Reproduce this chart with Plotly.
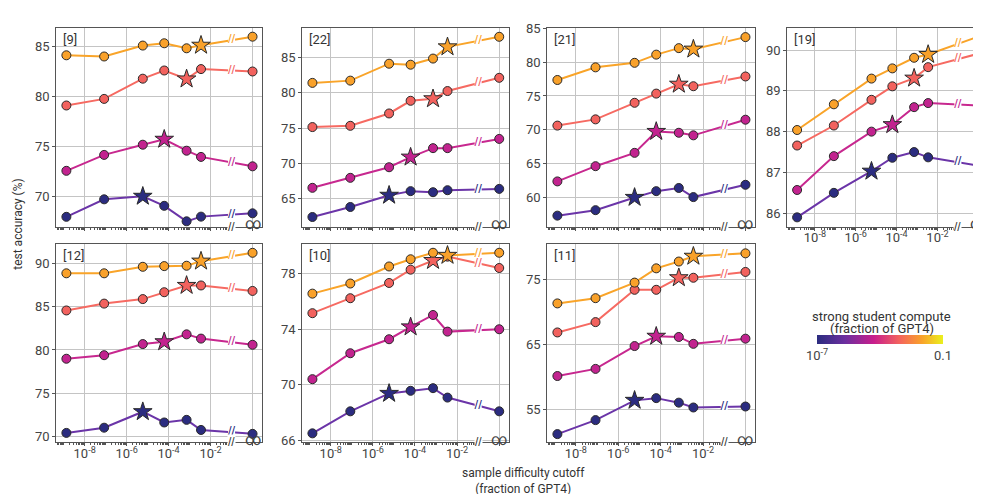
import math
import plotly.graph_objects as go

# ---------------- data ----------------
# sample difficulty cutoff (fraction of GPT4) for the finite points; last point is "∞"
CUTOFFS = [1.35e-9, 8.5e-8, 5.9e-6, 6.2e-5, 7.2e-4, 3.5e-3]
INF_POS = 1.0  # where the "∞" cutoff is placed on the log axis

SERIES_NAMES = ["dark", "magenta", "salmon", "orange"]
STAR_IDX = [2, 3, 4, 5]  # starred point for each series

PANEL_IDS = ["[9]", "[22]", "[21]", "[19]", "[12]", "[10]", "[11]"]

ACC_9 = [
    [67.95, 69.70, 70.00, 69.05, 67.50, 67.97, 68.30],
    [72.55, 74.14, 75.16, 75.70, 74.56, 73.94, 73.00],
    [79.08, 79.74, 81.76, 82.58, 81.73, 82.72, 82.48],
    [84.10, 83.98, 85.07, 85.30, 84.80, 85.10, 85.96],
]
ACC_22 = [
    [62.38, 63.80, 65.46, 66.05, 65.90, 66.18, 66.37],
    [66.52, 67.94, 69.44, 70.87, 72.15, 72.15, 73.46],
    [75.14, 75.32, 77.07, 78.87, 79.15, 80.25, 82.13],
    [81.41, 81.73, 84.13, 83.99, 84.86, 86.52, 87.95],
]
ACC_21 = [
    [57.31, 58.12, 60.00, 60.93, 61.40, 60.05, 61.87],
    [62.37, 64.62, 66.59, 69.75, 69.56, 69.18, 71.49],
    [70.62, 71.54, 73.99, 75.35, 76.73, 76.44, 77.88],
    [77.36, 79.23, 79.90, 81.11, 82.07, 81.92, 83.70],
]
ACC_19 = [
    [85.90, 86.50, 87.03, 87.36, 87.50, 87.37, 87.17],
    [86.57, 87.40, 88.00, 88.17, 88.60, 88.70, 88.64],
    [87.66, 88.15, 88.78, 89.11, 89.31, 89.58, 89.91],
    [88.04, 88.67, 89.30, 89.55, 89.81, 89.89, 90.33],
]
ACC_12 = [
    [70.45, 71.05, 72.89, 71.65, 71.95, 70.79, 70.34],
    [78.99, 79.40, 80.68, 80.94, 81.80, 81.31, 80.60],
    [84.55, 85.34, 85.86, 86.65, 87.43, 87.43, 86.80],
    [88.83, 88.83, 89.58, 89.66, 89.70, 90.23, 91.19],
]
ACC_10 = [
    [66.49, 68.08, 69.37, 69.56, 69.75, 69.07, 68.08],
    [70.40, 72.27, 73.28, 74.17, 75.03, 73.83, 74.00],
    [75.16, 76.24, 77.34, 78.30, 78.96, 79.24, 78.42],
    [76.57, 77.30, 78.53, 79.05, 79.52, 79.33, 79.52],
]
ACC_11 = [
    [51.30, 53.44, 56.46, 56.80, 56.11, 55.37, 55.52],
    [60.18, 61.27, 64.76, 66.25, 66.15, 65.10, 65.89],
    [66.84, 68.42, 73.36, 73.36, 75.20, 75.20, 76.09],
    [71.28, 72.08, 74.46, 76.64, 77.68, 78.48, 78.93],
]
PANEL_DATA = [ACC_9, ACC_22, ACC_21, ACC_19, ACC_12, ACC_10, ACC_11]

Y_RANGES = [
    [66.96, 86.83], [61.0, 89.2], [55.67, 85.05], [85.67, 90.54],
    [69.36, 92.25], [65.84, 80.18], [50.04, 80.42],
]
Y_TICKS = [
    [70, 75, 80, 85], [65, 70, 75, 80, 85], [60, 65, 70, 75, 80, 85], [86, 87, 88, 89, 90],
    [70, 75, 80, 85, 90], [66, 70, 74, 78], [55, 65, 75],
]
X_TICKVALS = [1e-8, 1e-6, 1e-4, 1e-2, 1.0]
X_TICKTEXT_FULL = ["10<sup>-8</sup>", "10<sup>-6</sup>", "10<sup>-4</sup>", "10<sup>-2</sup>", ""]
X_TICKTEXT_NONE = ["", "", "", "", ""]
INF_LABEL = "∞"

# ---------------- styles ----------------
W, H = 981, 494
FONT = "Roboto, Arial, sans-serif"
MARKER_COLORS = ["#2b2c80", "#c2238f", "#f2625e", "#f9a12a"]
LINE_COLORS = ["#6b35a8", "#c7288f", "#f66a62", "#f9a429"]
GRID = "#c4c4c4"
FRAME = "#555555"

# panel boxes in pixels: (left, right, top, bottom)
BOXES = [
    (48.3, 254, 13.3, 217), (294.3, 500.7, 13.3, 217), (539.2, 747, 13.3, 217), (779.3, 979.5, 13.3, 217),
    (48.3, 254, 234.3, 438), (294.3, 500.7, 234.3, 438), (539.2, 747, 234.3, 438),
]
FULL_LABEL_PANELS = {3, 4, 5, 6}

fig = go.Figure()
layout = dict(
    width=W, height=H, margin=dict(l=0, r=0, t=0, b=0),
    paper_bgcolor="white", plot_bgcolor="white", showlegend=False,
    font=dict(family=FONT, size=12, color="#333333"),
)
annotations = []

minor_vals = [m * 10.0 ** e for e in range(-10, -1) for m in range(1, 10)]
minor_vals = [v for v in minor_vals if v < 0.11 and v not in X_TICKVALS]

for p, (data, yr, yt) in enumerate(zip(PANEL_DATA, Y_RANGES, Y_TICKS)):
    n = "" if p == 0 else str(p + 1)
    l, r, t, b = BOXES[p]
    xd = [l / W, r / W]
    yd = [1 - b / H, 1 - t / H]
    layout["xaxis" + n] = dict(
        type="log", range=[-9.35, 0.45], domain=xd, anchor="y" + n,
        tickmode="array", tickvals=X_TICKVALS,
        ticktext=X_TICKTEXT_FULL if p in FULL_LABEL_PANELS else X_TICKTEXT_NONE,
        ticks="outside", ticklen=3, tickcolor=FRAME, ticklabelstandoff=-4,
        showgrid=True, gridcolor=GRID, gridwidth=1,
        showline=True, linecolor=FRAME, linewidth=1, mirror=True,
        minor=dict(tickmode="array", tickvals=minor_vals, ticks="outside", ticklen=2,
                   tickcolor=FRAME, showgrid=False),
        tickfont=dict(size=13, color="#444444"), zeroline=False,
    )
    layout["yaxis" + n] = dict(
        range=yr, domain=yd, anchor="x" + n, tickmode="array", tickvals=yt,
        ticks="outside", ticklen=3, tickcolor=FRAME,
        showgrid=True, gridcolor=GRID, gridwidth=1,
        showline=True, linecolor=FRAME, linewidth=1, mirror=True,
        tickfont=dict(size=13, color="#444444"), zeroline=False,
    )
    xs = CUTOFFS + [INF_POS]
    for s, ys in enumerate(data):
        # line
        fig.add_trace(go.Scatter(
            x=xs, y=ys, mode="lines", line=dict(color=LINE_COLORS[s], width=2),
            xaxis="x" + n, yaxis="y" + n, hoverinfo="skip"))
        # break mark on the line between last finite point and ∞
        lx0, lx1 = math.log10(xs[-2]), math.log10(xs[-1])
        frac = (-1 - lx0) / (lx1 - lx0)
        yb = ys[-2] + frac * (ys[-1] - ys[-2])
        fig.add_trace(go.Scatter(
            x=[10 ** -1], y=[yb], mode="markers+text", text=["//"],
            textposition="middle center",
            textfont=dict(size=13, color=MARKER_COLORS[s], family="Arial Black, Arial"),
            marker=dict(symbol="square", size=7, color="white", line=dict(width=0)),
            xaxis="x" + n, yaxis="y" + n, hoverinfo="skip"))
        # circle markers
        ci = [i for i in range(len(xs)) if i != STAR_IDX[s]]
        fig.add_trace(go.Scatter(
            x=[xs[i] for i in ci], y=[ys[i] for i in ci], mode="markers",
            marker=dict(symbol="circle", size=9, color=MARKER_COLORS[s],
                        line=dict(color="#2a2a2a", width=1)),
            xaxis="x" + n, yaxis="y" + n, hoverinfo="skip"))
        # star
        k = STAR_IDX[s]
        fig.add_trace(go.Scatter(
            x=[xs[k]], y=[ys[k]], mode="markers",
            marker=dict(symbol="star", size=14, color=MARKER_COLORS[s],
                        line=dict(color="#2a2a2a", width=1)),
            xaxis="x" + n, yaxis="y" + n, hoverinfo="skip"))
    # panel label
    annotations.append(dict(
        text=PANEL_IDS[p], xref="x" + n + " domain", yref="y" + n + " domain",
        x=0.025, y=0.99, xanchor="left", yanchor="top", showarrow=False,
        font=dict(size=13, color="#333333")))
    # axis break on the bottom axis
    annotations.append(dict(
        text="//", xref="x" + n, yref="y" + n + " domain", x=-1, y=0,
        xanchor="center", yanchor="middle", showarrow=False, bgcolor="white",
        borderpad=0, font=dict(size=12, color="#333333", family="Arial Black, Arial")))
    # infinity label under the last column
    annotations.append(dict(
        text=INF_LABEL, xref="x" + n, yref="y" + n + " domain", x=math.log10(INF_POS), y=0,
        xanchor="center", yanchor="middle", yshift=3, showarrow=False,
        font=dict(size=16, color="#444444")))

# colorbar
fig.add_trace(go.Scatter(
    x=[None], y=[None], mode="markers", xaxis="x", yaxis="y", hoverinfo="skip",
    marker=dict(
        color=[-4], cmin=-7, cmax=-1, size=0, showscale=True,
        colorscale=[[0, "#2b2c7f"], [0.22, "#6b2f9f"], [0.45, "#c81e8c"],
                    [0.66, "#f4655c"], [0.83, "#f9a12a"], [1, "#eaf01e"]],
        colorbar=dict(
            orientation="h", x=809 / W, xanchor="left", y=1 - 327.5 / H, yanchor="top",
            len=126, lenmode="pixels", thickness=9, outlinewidth=0, xpad=0, ypad=0,
            tickmode="array", tickvals=[-7, -1], ticktext=["10<sup>-7</sup>", "0.1"],
            ticks="", tickfont=dict(size=13, color="#444444"),
        ),
    )))

annotations.append(dict(
    text="strong student compute", xref="paper", yref="paper",
    x=873.5 / W, y=1 - 309 / H, showarrow=False, xanchor="center", yanchor="middle",
    font=dict(size=13, color="#333333")))
annotations.append(dict(
    text="(fraction of GPT4)", xref="paper", yref="paper",
    x=873.5 / W, y=1 - 321 / H, showarrow=False, xanchor="center", yanchor="middle",
    font=dict(size=13, color="#333333")))
annotations.append(dict(
    text="test accuracy (%)", xref="paper", yref="paper", x=10 / W, y=1 - 215 / H,
    textangle=-90, showarrow=False, xanchor="center", yanchor="middle",
    font=dict(size=12, color="#333333")))
annotations.append(dict(
    text="sample difficulty cutoff<br>(fraction of GPT4)", xref="paper", yref="paper",
    x=515 / W, y=1 - 478 / H, showarrow=False, xanchor="center", yanchor="middle",
    font=dict(size=12, color="#333333")))

layout["annotations"] = annotations
fig.update_layout(**layout)
fig.write_html("out.html")
